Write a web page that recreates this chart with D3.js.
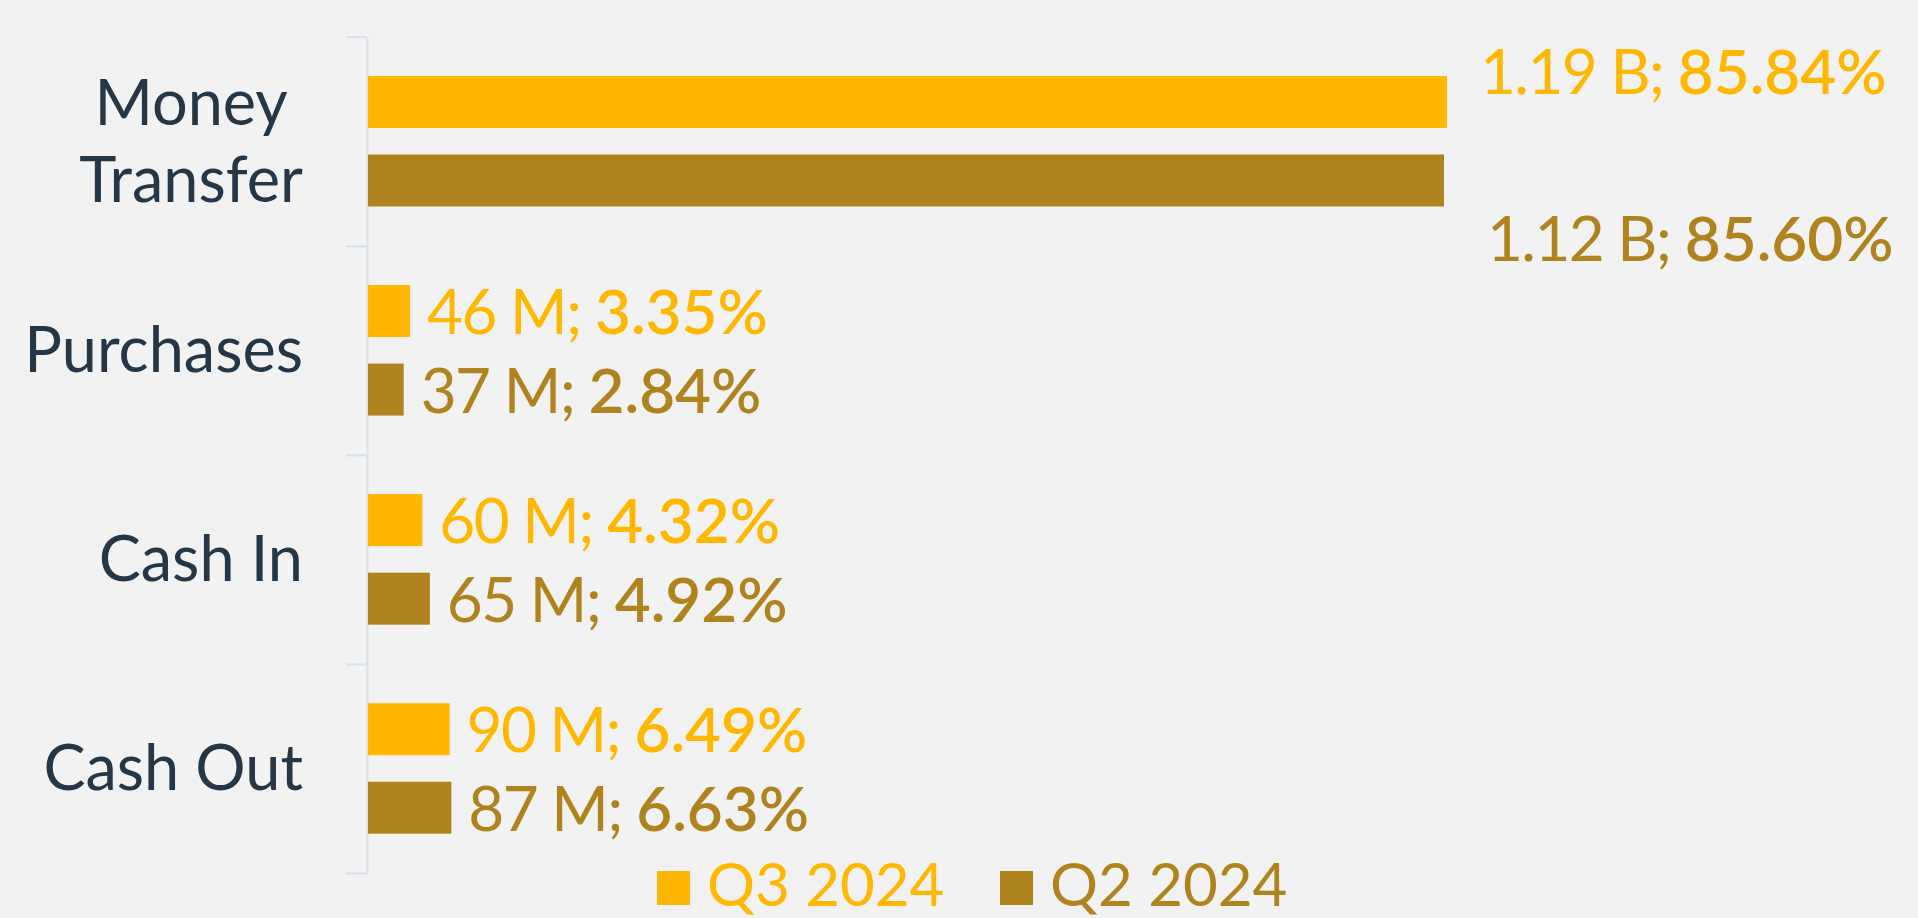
<!DOCTYPE html>
<html><head><meta charset="utf-8">
<script src="https://cdn.jsdelivr.net/npm/d3@7"></script>
<style>
html,body{margin:0;padding:0;background:#f2f2f2;}
svg{display:block;}
text{font-family:Lato,"Open Sans",sans-serif;}
</style></head>
<body>
<svg id="c" width="1918" height="918"></svg>
<script>
const categories = ["Money Transfer", "Purchases", "Cash In", "Cash Out"];
const seriesNames = ["Q3 2024", "Q2 2024"];
const q3Amounts = ["1.19 B", "46 M", "60 M", "90 M"];
const q3Shares = [85.84, 3.35, 4.32, 6.49];
const q2Amounts = ["1.12 B", "37 M", "65 M", "87 M"];
const q2Shares = [85.60, 2.84, 4.92, 6.63];
const colors = ["#FFB700", "#AF841F"];

(function () {
const W = 1918, H = 918;
const svg = d3.select("#c");
svg.append("rect").attr("width", W).attr("height", H).attr("fill", "#f2f2f2");

const axisX = 367, plotTop = 36.7, plotBottom = 873;
const x = d3.scaleLinear().domain([0, 100]).range([axisX, axisX + 1257]);
const y0 = d3.scaleBand().domain(categories).range([plotTop, plotBottom]).padding(0);
const y1 = d3.scaleBand().domain(seriesNames).range([0, y0.bandwidth()])
  .paddingInner(0.338).paddingOuter(0.5);

const amounts = [q3Amounts, q2Amounts];
const shares = [q3Shares, q2Shares];
const rows = [];
categories.forEach((c, i) => {
  seriesNames.forEach((s, j) => {
    rows.push({cat: c, ci: i, ser: s, si: j, amount: amounts[j][i], share: shares[j][i]});
  });
});

// axis with ticks at band boundaries
const yb = d3.scaleLinear().domain([0, categories.length]).range([plotTop, plotBottom]);
const ax = svg.append("g").attr("transform", `translate(${axisX},0)`)
  .call(d3.axisLeft(yb).tickValues(d3.range(categories.length + 1)).tickFormat("").tickSizeInner(21).tickSizeOuter(0));
ax.selectAll("path,line").attr("stroke", "#d6e1ec").attr("stroke-width", 2);

// bars
svg.append("g").selectAll("rect").data(rows).join("rect")
  .attr("x", x(0) + 1)
  .attr("y", d => y0(d.cat) + y1(d.ser))
  .attr("width", d => x(d.share) - x(0))
  .attr("height", y1.bandwidth())
  .attr("fill", d => colors[d.si]);

// labels
const special = { "Money Transfer": [{dx: 34, dy: -7.5}, {dx: 44, dy: 80.5}] };
const lbl = svg.append("g").selectAll("text").data(rows).join("text")
  .attr("x", d => x(d.share) + (special[d.cat] ? special[d.cat][d.si].dx : 18))
  .attr("y", d => y0(d.cat) + y1(d.ser) + y1.bandwidth() / 2 + (special[d.cat] ? special[d.cat][d.si].dy : 23))
  .attr("fill", d => colors[d.si])
  .attr("font-size", 62);
lbl.append("tspan").attr("font-weight", 400).attr("letter-spacing", -1.6).text(d => d.amount + "; ");
lbl.append("tspan").attr("font-weight", 600).attr("font-size", 62)
  .text(d => d.share.toFixed(2) + "%");

// category labels
const labelRight = 303;
const lineGap = 77;
categories.forEach(c => {
  const lines = c === "Money Transfer" ? c.split(" ") : [c];
  const t = svg.append("text").attr("fill", "#253746").attr("font-size", 63).attr("text-anchor", "middle");
  const cy = y0(c) + y0.bandwidth() / 2;
  lines.forEach((l, k) => {
    t.append("tspan").attr("x", 0)
      .attr("y", cy + (k - (lines.length - 1) / 2) * lineGap + 22)
      .text(l);
  });
  const w = t.node().getBBox().width;
  t.attr("transform", `translate(${labelRight - w / 2},0)`);
});

// legend
const legX = [657, 1000];
const lg = svg.append("g").selectAll("g").data(seriesNames).join("g")
  .attr("transform", (d, i) => `translate(${legX[i]},871)`);
lg.append("rect").attr("width", 33).attr("height", 34).attr("fill", (d, i) => colors[i]);
lg.append("text").attr("x", 50).attr("y", 35).attr("font-size", 60)
  .attr("fill", (d, i) => colors[i]).text(d => d);
})();
</script>
</body></html>
